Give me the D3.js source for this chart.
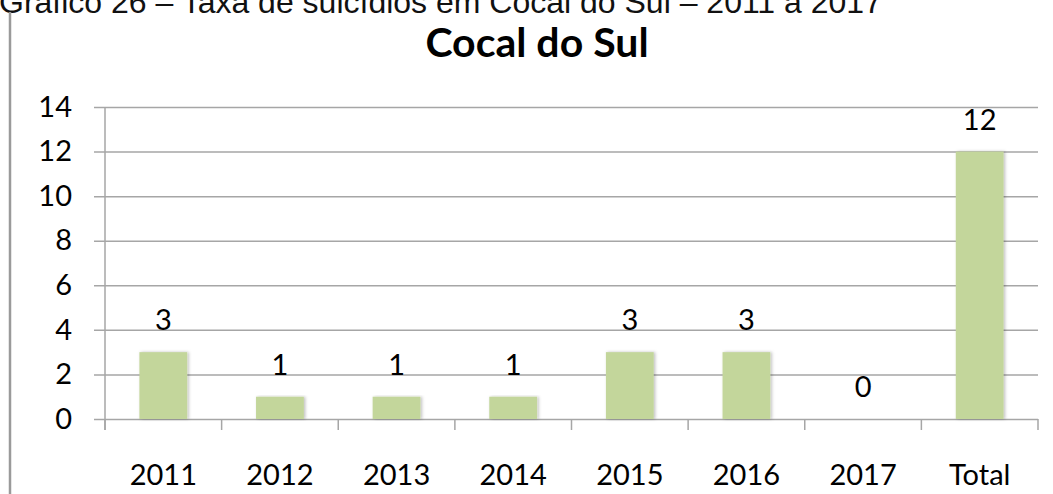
<!DOCTYPE html>
<html>
<head>
<meta charset="utf-8">
<script src="https://cdn.jsdelivr.net/npm/d3@7"></script>
<style>
  html, body { margin: 0; padding: 0; background: #fff; }
  svg { display: block; }
</style>
</head>
<body>
<div id="chart"></div>
<script>
const caption = 'Gráfico 26 – Taxa de suicídios em Cocal do Sul – 2011 a 2017';
const title = 'Cocal do Sul';
const categories = ['2011', '2012', '2013', '2014', '2015', '2016', '2017', 'Total'];
const values = [3, 1, 1, 1, 3, 3, 0, 12];
const yTicks = [0, 2, 4, 6, 8, 10, 12, 14];

const W = 1053, H = 494;
const margin = { top: 107, right: 15, bottom: 75, left: 105 };
const innerW = W - margin.left - margin.right;
const innerH = H - margin.top - margin.bottom;

const svg = d3.select('#chart').append('svg')
  .attr('width', W)
  .attr('height', H);

const defs = svg.append('defs');
const shadow = defs.append('filter').attr('id', 'shadow')
  .attr('x', '-20%').attr('y', '-5%').attr('width', '140%').attr('height', '110%');
shadow.append('feDropShadow')
  .attr('dx', 1.5).attr('dy', 0).attr('stdDeviation', 1.5)
  .attr('flood-color', '#000').attr('flood-opacity', 0.25);

// caption (its top is cut by the page edge, as in the source scan)
svg.append('text')
  .attr('x', -1)
  .attr('y', 13)
  .style('font-family', '"Liberation Sans", Arial, sans-serif')
  .style('font-size', '32px')
  .attr('fill', '#111')
  .text(caption);

// left page rule
svg.append('line')
  .attr('x1', 10).attr('x2', 10)
  .attr('y1', 12).attr('y2', H)
  .attr('stroke', '#9a9a9a')
  .attr('stroke-width', 2.5);

svg.append('text')
  .attr('x', 537)
  .attr('y', 57)
  .attr('text-anchor', 'middle')
  .style('font-family', 'Lato, "Open Sans", sans-serif')
  .style('font-weight', 'bold')
  .style('font-size', '41px')
  .text(title);

const g = svg.append('g')
  .attr('transform', `translate(${margin.left},${margin.top})`);

const x = d3.scaleBand()
  .domain(categories)
  .range([0, innerW])
  .padding(0);

const y = d3.scaleLinear()
  .domain([0, 14])
  .range([innerH, 0]);

const font = 'Lato, "Open Sans", sans-serif';
const gridColor = '#a6a6a6';

// gridlines + y axis
const yAxis = g.append('g')
  .call(d3.axisLeft(y).tickValues(yTicks).tickSize(-innerW).tickPadding(33));
yAxis.select('.domain').remove();
yAxis.selectAll('.tick line')
  .attr('x1', -11)
  .attr('stroke', gridColor)
  .attr('stroke-width', 1.5);
yAxis.selectAll('.tick text')
  .style('font-family', font)
  .style('font-size', '29px')
  .attr('fill', '#000');

// vertical axis line
g.append('line')
  .attr('x1', 0).attr('x2', 0)
  .attr('y1', 0).attr('y2', innerH + 11)
  .attr('stroke', gridColor)
  .attr('stroke-width', 1.5);

// x axis tick marks at band boundaries
const xAxis = g.append('g')
  .attr('transform', `translate(0,${innerH})`);
const bounds = categories.map(c => x(c)).concat([x(categories[categories.length - 1]) + x.bandwidth()]);
xAxis.selectAll('line.tk')
  .data(bounds)
  .enter().append('line')
  .attr('class', 'tk')
  .attr('x1', d => d).attr('x2', d => d)
  .attr('y1', 0).attr('y2', 11)
  .attr('stroke', gridColor)
  .attr('stroke-width', 1.5);
xAxis.selectAll('text')
  .data(categories)
  .enter().append('text')
  .attr('x', d => x(d) + x.bandwidth() / 2)
  .attr('y', 66)
  .attr('text-anchor', 'middle')
  .style('font-family', font)
  .style('font-size', '29px')
  .text(d => d);

// bars
const barW = x.bandwidth() * 0.41;
const data = categories.map((c, i) => ({ label: c, value: values[i] }));

g.selectAll('.bar')
  .data(data.filter(d => d.value > 0))
  .enter().append('rect')
  .attr('class', 'bar')
  .attr('x', d => x(d.label) + (x.bandwidth() - barW) / 2)
  .attr('y', d => y(d.value))
  .attr('width', barW)
  .attr('height', d => innerH - y(d.value))
  .attr('fill', '#c3d69b')
  .attr('filter', 'url(#shadow)');

// value labels
g.selectAll('.val')
  .data(data)
  .enter().append('text')
  .attr('class', 'val')
  .attr('x', d => x(d.label) + x.bandwidth() / 2)
  .attr('y', d => y(d.value) - 22)
  .attr('text-anchor', 'middle')
  .style('font-family', font)
  .style('font-size', '29px')
  .text(d => d.value);
</script>
</body>
</html>
